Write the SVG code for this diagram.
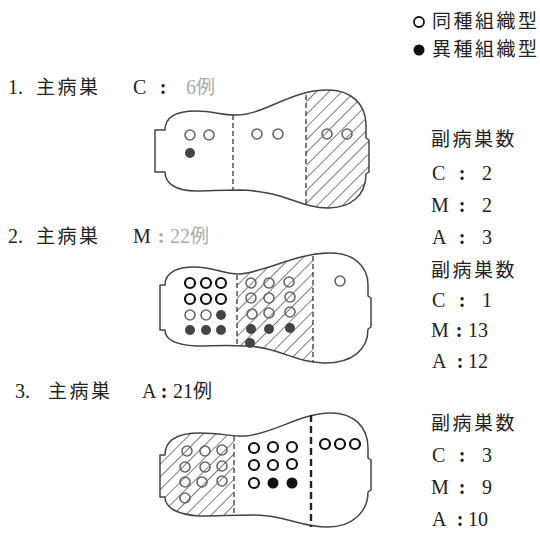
<svg xmlns="http://www.w3.org/2000/svg" width="540" height="536" viewBox="0 0 540 536">
  <style>
    .t { font-family: "Liberation Serif", "Noto Sans CJK JP", serif; fill: #222; }
    .cjk { font-size: 19px; letter-spacing: 2.5px; }
    .lat { font-size: 20px; }
    .col { font-size: 20px; font-weight: bold; text-anchor: middle; }
    .gray { fill: #aaa; }
    .outline { fill: none; stroke: #444; stroke-width: 1.5; stroke-linejoin: round; }
    .div { fill: none; stroke: #444; stroke-width: 1.4; stroke-dasharray: 5 3; }
    .divb { fill: none; stroke: #222; stroke-width: 2.4; stroke-dasharray: 7 4; }
    .o { fill: none; stroke: #666; stroke-width: 1.6; }
    .ob { fill: none; stroke: #111; stroke-width: 2.2; }
    .f { fill: #444; }
    .fb { fill: #111; }
  </style>
  <defs>
    <pattern id="hatch" patternUnits="userSpaceOnUse" width="9" height="9" patternTransform="rotate(45)">
      <line x1="0" y1="0" x2="0" y2="9" stroke="#444" stroke-width="1.4"/>
    </pattern>
    <path id="body1" d="M165,130 C165,116 177,111 196,111 C215,111 222,116 238,115 C265,114 290,91 325,90 C352,89 366,105 366,125 L366,138 L369,140 L369,172 L366,174 C366,196 350,208 328,208 C300,208 285,191 240,190 C220,190 210,191 196,191 C177,191 165,184 165,172 L155,172 L155,130 Z"/>
    <path id="body2" d="M165,285 C165,272 178,267 194,267 C215,267 225,275 240,274 C265,272 295,254 328,253 C352,252 368,265 368,285 L368,296 L371,298 L371,327 L368,329 C368,350 352,363 325,363 C295,363 280,347 245,346 C225,345 212,346 196,346 C178,345 165,340 165,330 L160,330 L160,285 Z"/>
    <path id="body3" d="M165,455 C165,440 178,433 200,433 C222,433 232,437 246,436 C272,434 300,414 328,413 C355,412 368,428 368,448 L368,458 L371,460 L371,490 L368,492 C368,512 352,527 328,527 C300,527 285,515 255,515 C232,515 220,516 200,516 C178,515 165,508 165,497 L160,497 L160,455 Z"/>
    <clipPath id="clip1"><use href="#body1"/></clipPath>
    <clipPath id="clip2"><use href="#body2"/></clipPath>
    <clipPath id="clip3"><use href="#body3"/></clipPath>
  </defs>

  <!-- legend -->
  <g id="legend">
    <circle cx="419" cy="22" r="5" fill="none" stroke="#111" stroke-width="1.8"/>
    <text class="t cjk" x="432" y="28">同種組織型</text>
    <circle cx="419" cy="50" r="5.5" fill="#111"/>
    <text class="t cjk" x="432" y="56">異種組織型</text>
  </g>

  <!-- case 1: main lesion C -->
  <g id="title1">
    <text class="t lat" x="8" y="94">1.</text>
    <text class="t cjk" x="36" y="94">主病巣</text>
    <text class="t lat" x="133" y="94">C</text>
    <text class="t col" x="163" y="94">:</text>
    <text class="t lat gray" x="186" y="94">6<tspan font-size="19">例</tspan></text>
  </g>
  <g id="stomach1">
    <g clip-path="url(#clip1)"><rect x="306" y="85" width="70" height="130" fill="url(#hatch)"/></g>
    <use href="#body1" class="outline"/>
    <line class="div" x1="233" y1="115" x2="233" y2="190"/>
    <line class="div" x1="306" y1="95" x2="306" y2="204"/>
    <circle class="o" cx="190" cy="135" r="5"/>
    <circle class="o" cx="209" cy="135" r="5"/>
    <circle class="f" cx="190" cy="153" r="5"/>
    <circle class="o" cx="257" cy="134" r="5"/>
    <circle class="o" cx="278" cy="134" r="5"/>
    <circle class="o" cx="327" cy="134" r="5"/>
    <circle class="o" cx="347" cy="134" r="5"/>
  </g>
  <g id="count1">
    <text class="t cjk" x="431" y="146">副病巣数</text>
    <text class="t lat" x="432" y="180">C</text><text class="t col" x="462" y="180">:</text><text class="t lat" x="482" y="180">2</text>
    <text class="t lat" x="431" y="212">M</text><text class="t col" x="462" y="212">:</text><text class="t lat" x="482" y="212">2</text>
    <text class="t lat" x="432" y="244">A</text><text class="t col" x="462" y="244">:</text><text class="t lat" x="482" y="244">3</text>
  </g>

  <!-- case 2: main lesion M -->
  <g id="title2">
    <text class="t lat" x="8" y="243">2.</text>
    <text class="t cjk" x="36" y="243">主病巣</text>
    <text class="t lat" x="133" y="243">M</text>
    <text class="t col gray" x="161" y="243">:</text>
    <text class="t lat gray" x="170" y="243">22<tspan font-size="19">例</tspan></text>
  </g>
  <g id="stomach2">
    <g clip-path="url(#clip2)"><rect x="237" y="250" width="76" height="118" fill="url(#hatch)"/></g>
    <use href="#body2" class="outline"/>
    <line class="div" x1="237" y1="275" x2="237" y2="345"/>
    <line class="div" x1="313" y1="256" x2="313" y2="362"/>
    <circle class="ob" cx="190" cy="283" r="5"/>
    <circle class="ob" cx="206" cy="283" r="5"/>
    <circle class="ob" cx="221" cy="283" r="5"/>
    <circle class="ob" cx="190" cy="299" r="5"/>
    <circle class="ob" cx="206" cy="299" r="5"/>
    <circle class="ob" cx="221" cy="299" r="5"/>
    <circle class="o" cx="190" cy="315" r="5"/>
    <circle class="o" cx="206" cy="315" r="5"/>
    <circle class="f" cx="221" cy="315" r="5"/>
    <circle class="f" cx="190" cy="330" r="5"/>
    <circle class="f" cx="206" cy="330" r="5"/>
    <circle class="f" cx="221" cy="330" r="5"/>
    <circle class="o" cx="251" cy="283" r="5"/>
    <circle class="o" cx="269" cy="283" r="5"/>
    <circle class="o" cx="289" cy="282" r="5"/>
    <circle class="o" cx="251" cy="298" r="5"/>
    <circle class="o" cx="269" cy="298" r="5"/>
    <circle class="o" cx="290" cy="297" r="5"/>
    <circle class="o" cx="252" cy="314" r="5"/>
    <circle class="o" cx="269" cy="313" r="5"/>
    <circle class="o" cx="290" cy="312" r="5"/>
    <circle class="f" cx="251" cy="329" r="5"/>
    <circle class="f" cx="269" cy="329" r="5"/>
    <circle class="f" cx="290" cy="328" r="5"/>
    <circle class="f" cx="250" cy="343" r="5"/>
    <circle class="o" cx="340" cy="281" r="5"/>
  </g>
  <g id="count2">
    <text class="t cjk" x="431" y="277">副病巣数</text>
    <text class="t lat" x="432" y="307">C</text><text class="t col" x="462" y="307">:</text><text class="t lat" x="482" y="307">1</text>
    <text class="t lat" x="431" y="337">M</text><text class="t col" x="459" y="337">:</text><text class="t lat" x="468" y="337">13</text>
    <text class="t lat" x="432" y="368">A</text><text class="t col" x="460" y="368">:</text><text class="t lat" x="468" y="368">12</text>
  </g>

  <!-- case 3: main lesion A -->
  <g id="title3">
    <text class="t lat" x="15" y="398">3.</text>
    <text class="t cjk" x="48" y="398">主病巣</text>
    <text class="t lat" x="142" y="398">A</text>
    <text class="t col" x="164" y="398">:</text>
    <text class="t lat" x="173" y="398">21<tspan font-size="19">例</tspan></text>
  </g>
  <g id="stomach3">
    <g clip-path="url(#clip3)"><rect x="155" y="410" width="79" height="122" fill="url(#hatch)"/></g>
    <use href="#body3" class="outline"/>
    <line class="div" x1="234" y1="436" x2="234" y2="515"/>
    <line class="divb" x1="311" y1="415" x2="311" y2="527"/>
    <circle class="o" cx="187" cy="451" r="5"/>
    <circle class="o" cx="205" cy="451" r="5"/>
    <circle class="o" cx="222" cy="450" r="5"/>
    <circle class="o" cx="185" cy="467" r="5"/>
    <circle class="o" cx="205" cy="467" r="5"/>
    <circle class="o" cx="222" cy="466" r="5"/>
    <circle class="o" cx="185" cy="482" r="5"/>
    <circle class="o" cx="202" cy="482" r="5"/>
    <circle class="o" cx="222" cy="481" r="5"/>
    <circle class="o" cx="185" cy="498" r="5"/>
    <circle class="ob" cx="254" cy="448" r="5"/>
    <circle class="ob" cx="273" cy="447" r="5"/>
    <circle class="ob" cx="292" cy="447" r="5"/>
    <circle class="ob" cx="254" cy="465" r="5"/>
    <circle class="ob" cx="273" cy="465" r="5"/>
    <circle class="ob" cx="292" cy="464" r="5"/>
    <circle class="ob" cx="254" cy="483" r="5"/>
    <circle class="fb" cx="273" cy="483" r="5.5"/>
    <circle class="fb" cx="292" cy="483" r="5.5"/>
    <circle class="ob" cx="325" cy="444" r="5"/>
    <circle class="ob" cx="340" cy="444" r="5"/>
    <circle class="ob" cx="355" cy="444" r="5"/>
  </g>
  <g id="count3">
    <text class="t cjk" x="431" y="430">副病巣数</text>
    <text class="t lat" x="432" y="462">C</text><text class="t col" x="462" y="462">:</text><text class="t lat" x="482" y="462">3</text>
    <text class="t lat" x="431" y="494">M</text><text class="t col" x="462" y="494">:</text><text class="t lat" x="482" y="494">9</text>
    <text class="t lat" x="432" y="526">A</text><text class="t col" x="460" y="526">:</text><text class="t lat" x="468" y="526">10</text>
  </g>
</svg>
